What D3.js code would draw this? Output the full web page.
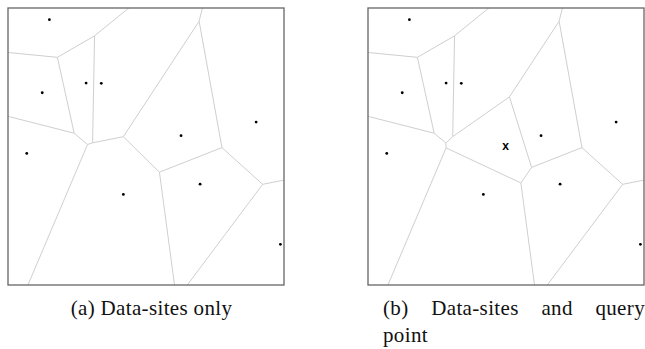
<!DOCTYPE html>
<html><head><meta charset="utf-8">
<script src="https://cdn.jsdelivr.net/npm/d3@7"></script>
<style>body{margin:0;background:#fff}svg{display:block}</style>
</head><body>
<svg id="c" width="645" height="349"></svg>
<script>
// data-sites (domain 0..100, y upward)
const siteX = [15.0, 12.4, 28.3, 33.8, 62.7, 89.9, 6.8, 41.8, 69.6, 98.7];
const siteY = [95.8, 69.4, 72.9, 72.8, 53.9, 58.8, 47.5, 32.7, 36.4, 14.7];
const queryPoint = [49.9, 49.9];
const captionA = ["(a)", "Data-sites", "only"];
const captionB1 = ["(b)", "Data-sites", "and", "query"];
const captionB2 = ["point"];

const svg = d3.select("#c");
const panels = [
  {left: 8, withQuery: false},
  {left: 368, withQuery: true}
];
const PW = 276, PT = 8, PH = 277;

panels.forEach(p => {
  const x = d3.scaleLinear().domain([0, 100]).range([p.left, p.left + PW]);
  const y = d3.scaleLinear().domain([0, 100]).range([PT + PH, PT]);
  const pts = siteX.map((v, i) => [x(v), y(siteY[i])]);
  const all = p.withQuery ? pts.concat([[x(queryPoint[0]), y(queryPoint[1])]]) : pts;
  const vor = d3.Delaunay.from(all).voronoi([p.left, PT, p.left + PW, PT + PH]);
  const g = svg.append("g");
  g.append("path").attr("d", vor.render()).attr("fill", "none")
    .attr("stroke", "#cfcfcf").attr("stroke-width", 1);
  g.append("rect").attr("x", p.left).attr("y", PT).attr("width", PW).attr("height", PH)
    .attr("fill", "none").attr("stroke", "#666").attr("stroke-width", 1.3);
  g.selectAll("circle").data(pts).join("circle")
    .attr("cx", d => d[0]).attr("cy", d => d[1]).attr("r", 1.4).attr("fill", "#000");
  if (p.withQuery) {
    g.append("text").attr("x", x(queryPoint[0])).attr("y", y(queryPoint[1]))
      .attr("text-anchor", "middle").attr("dominant-baseline", "central")
      .attr("font-family", "Liberation Mono").attr("font-weight", "bold").attr("font-size", 12)
      .text("x");
  }
});

function placeLine(words, x0, x1, yb, justify, center) {
  const texts = words.map(w => svg.append("text").attr("y", yb)
    .attr("font-family", "Liberation Serif").attr("font-size", 21)
    .attr("letter-spacing", 0.35).attr("fill", "#111").text(w));
  const widths = texts.map(t => t.node().getComputedTextLength());
  const tot = d3.sum(widths);
  let gap, start;
  if (justify && words.length > 1) { gap = (x1 - x0 - tot) / (words.length - 1); start = x0; }
  else { gap = 5.5; const full = tot + gap * (words.length - 1); start = center ? (x0 + x1 - full) / 2 : x0; }
  let cx = start;
  texts.forEach((t, i) => { t.attr("x", cx); cx += widths[i] + gap; });
}
placeLine(captionA, 60, 243, 315, false, true);
placeLine(captionB1, 383, 645, 315, true, false);
placeLine(captionB2, 383, 645, 342, false, false);
</script>
</body></html>
